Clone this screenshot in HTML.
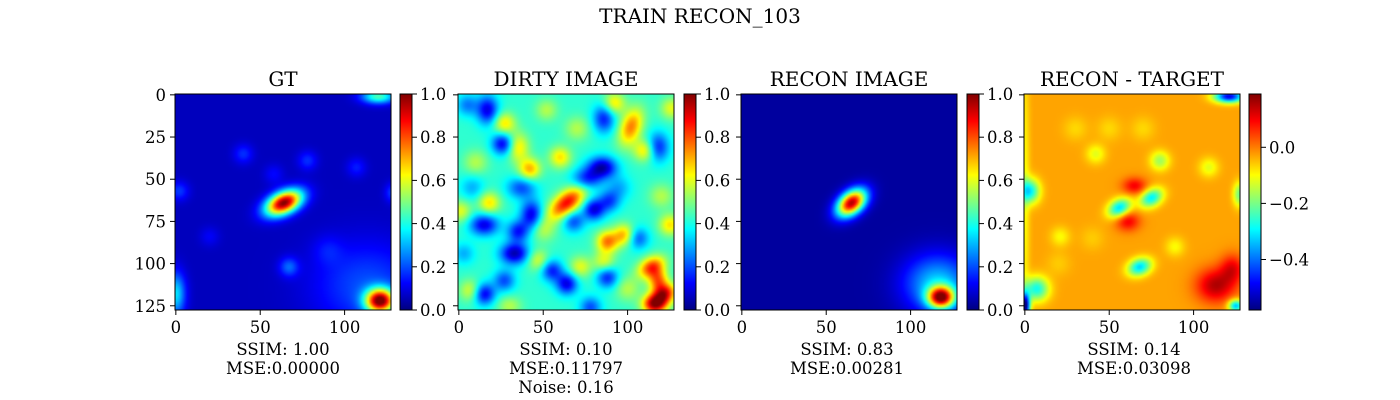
<!DOCTYPE html>
<html><head><meta charset="utf-8"><style>
body{margin:0;background:#fff;}
#wrap{position:relative;width:1400px;height:400px;overflow:hidden;font-family:"DejaVu Serif","Liberation Serif",serif;}
canvas{position:absolute;width:216px;height:216px;}
svg{position:absolute;left:0;top:0;}
</style></head><body>
<div id="wrap">
<canvas id="c0" width="216" height="216" style="left:175px;top:94px"></canvas>
<canvas id="c1" width="216" height="216" style="left:458px;top:94px"></canvas>
<canvas id="c2" width="216" height="216" style="left:741px;top:94px"></canvas>
<canvas id="c3" width="216" height="216" style="left:1024px;top:94px"></canvas>
<svg id="ov" width="1400" height="400">
<defs><linearGradient id="jet" x1="0" y1="1" x2="0" y2="0">
<stop offset="0" stop-color="#000080"/><stop offset="0.125" stop-color="#0000ff"/><stop offset="0.375" stop-color="#00ffff"/><stop offset="0.625" stop-color="#ffff00"/><stop offset="0.875" stop-color="#ff0000"/><stop offset="1" stop-color="#800000"/></linearGradient></defs>
<text x="700" y="23" font-size="20" text-anchor="middle">TRAIN RECON_103</text>
</svg>
</div>
<script>
// blobs: [x, y, sigmaX, sigmaY, angleDeg, peakValue]
const gtBg = 0.06;
const gtBlobs = [[64,64,8,4.5,-25,1.0],[121,122,6,5,0,0.95],[113,113,22,18,0,0.2],[120,1,7,3,0,0.45],[0,118,4,9,0,0.35],
 [40,35,4,4,0,0.17],[78,39,4,4,0,0.17],[107,43,4,4,0,0.15],[67,102,4,4,0,0.22],[2,57,4,4,0,0.18],[128,58,3,4,0,0.18],[20,84,4,4,0,0.12],[58,47,4,4,0,0.13],[90,92,6,6,0,0.12]];
const dirtyBg = 0.42;
const dirtyBlobs = [[64,64,9,4.5,-40,0.88],[102,19,4.5,8,20,0.75],[110,33,4.5,4.5,0,0.65],[60,37,4.5,4.5,0,0.65],[42,44,4.5,4.5,0,0.7],[35,31,4.5,6,0,0.65],[27,17,4.5,4.5,0,0.65],[18,64,4.5,4.5,0,0.65],[88,87,4.5,4.5,0,0.75],[98,83,4.5,4.5,0,0.7],
 [114,102,6,4,-30,0.8],[118,110,4,5,0,0.75],[122,118,5,4,-30,0.85],[116,124,5,4,0,0.95],[125,77,4.5,4.5,0,0.65],[92,5,4.5,4.5,0,0.65],
 [17,9,4.5,6,0,0.1],[26,29,4.5,4.5,0,0.1],[85,43,6,4.5,0,0.05],[76,50,6,4.5,0,0.15],[86,14,4.5,6,0,0.15],[118,31,4.5,6,0,0.15],[15,77,6,4.5,0,0.1],[43,71,4.5,6,0,0.1],[33,94,6,4.5,0,0.05],[35,81,4.5,4.5,0,0.15],[80,68,4.5,4.5,0,0.1],[89,63,4.5,4.5,0,0.2],[15,118,4.5,4.5,0,0.1],[64,112,4.5,4.5,0,0.1],[55,104,4.5,4.5,0,0.15],[88,108,4.5,4.5,0,0.15],[106,85,4.5,4.5,0,0.2],[37,55,6,4.5,0,0.2],[68,75,4.5,4.5,0,0.2],[5,6,4.5,4.5,0,0.25],[27,110,4.5,4.5,0,0.2],[78,126,4.5,4.5,0,0.2],[3,94,4.5,4.5,0,0.3],
 [7,116,4.5,4.5,0,0.6],[47,98,4.5,4.5,0,0.6],[72,102,4.5,4.5,0,0.6],[86,99,4.5,4.5,0,0.6],[1,69,4.5,4.5,0,0.6],[126,8,4.5,4.5,0,0.6],[52,9,4.5,4.5,0,0.55],
 [10,40,5,5,0,0.55],[70,20,5,5,0,0.55],[120,60,5,5,0,0.55],[50,80,5,5,0,0.55],[100,115,5,5,0,0.55],[30,125,5,4,0,0.55],[95,55,5,5,0,0.3],[8,55,5,5,0,0.3]];
const reconBg = 0.03;
const reconBlobs = [[65,64,7,4.5,-40,0.95],[118,120,5.5,4.5,0,0.85],[116,112,14,12,0,0.33]];
const diffBg = -0.03;
const diffBlobs = [[56,67,5,3.5,-30,-0.32],[75,61,5,3.5,-30,-0.3],[68,102,5,3.5,-20,-0.32],[3,57,4,5,0,-0.3],[80,39,4,4,0,-0.17],[42,35,4,4,0,-0.12],[109,43,4,4,0,-0.12],[127,59,2.5,5,0,-0.2],[21,84,4,4,0,-0.1],[89,90,4,4,0,-0.1],
 [65,54,5,3.5,0,0.1],[61,75,5,4,0,0.1],[113,113,8,7,0,0.15],[123,103,5,6,0,0.1],[7,115,5,5,0,-0.28],[0,125,2,5,0,-0.58],[121,1,6,2.5,0,-0.5],[125,125,3,2.5,0,-0.35],[0,60,2,60,0,-0.1],
 [30,20,5,5,0,-0.07],[50,20,5,5,0,-0.07],[70,20,5,5,0,-0.07],[20,100,5,5,0,-0.06],[40,85,5,5,0,-0.06]];
const cbTicks1 = ["0.0","0.2","0.4","0.6","0.8","1.0"];
const cbVals1 = [0,0.2,0.4,0.6,0.8,1.0];
const cbTicks4 = ["\u22120.4","\u22120.2","0.0"];
const cbVals4 = [-0.4,-0.2,0.0];
const axTicks = [0,25,50,75,100,125];
const axXTicks = [0,50,100];
const panelTitles = ["GT","DIRTY IMAGE","RECON IMAGE","RECON - TARGET"];
const metrics = [["SSIM: 1.00","MSE:0.00000"],["SSIM: 0.10","MSE:0.11797","Noise: 0.16"],["SSIM: 0.83","MSE:0.00281"],["SSIM: 0.14","MSE:0.03098"]];
const ranges = [[0,1],[0,1],[0,1],[-0.58,0.19]];

const lefts=[175,458,741,1024], TOP=94, SZ=216, N=128, PX=SZ/N;
const cbL=[400,684,967,1249];
function jet(v){const c=x=>Math.max(0,Math.min(1,x));return [c(1.5-Math.abs(4*v-3)),c(1.5-Math.abs(4*v-2)),c(1.5-Math.abs(4*v-1))].map(x=>Math.round(x*255));}
function render(id,bg,blobs,rng){
 const off=document.createElement('canvas');off.width=N;off.height=N;const ox=off.getContext('2d');
 const im=ox.createImageData(N,N);
 for(let j=0;j<N;j++)for(let i=0;i<N;i++){
  let v=bg;
  for(const b of blobs){const a=b[4]*Math.PI/180,dx=i-b[0],dy=j-b[1];
   const u=dx*Math.cos(a)+dy*Math.sin(a),w=-dx*Math.sin(a)+dy*Math.cos(a);
   v+=(b[5]-bg)*Math.exp(-(u*u/(2*b[2]*b[2])+w*w/(2*b[3]*b[3])));}
  const n=(v-rng[0])/(rng[1]-rng[0]);const c=jet(Math.max(0,Math.min(1,n)));const k=(j*N+i)*4;
  im.data[k]=c[0];im.data[k+1]=c[1];im.data[k+2]=c[2];im.data[k+3]=255;}
 ox.putImageData(im,0,0);
 const ctx=document.getElementById(id).getContext('2d');ctx.imageSmoothingEnabled=true;ctx.drawImage(off,0,0,SZ,SZ);
}
render('c0',gtBg,gtBlobs,ranges[0]);
render('c1',dirtyBg,dirtyBlobs,ranges[1]);
render('c2',reconBg,reconBlobs,ranges[2]);
render('c3',diffBg,diffBlobs,ranges[3]);

const svg=document.getElementById('ov');const NS='http://www.w3.org/2000/svg';
function mk(tag,attrs,name,txt){const e=document.createElementNS(NS,tag);for(const k in attrs)e.setAttribute(k,attrs[k]);
 
 
 if(txt!==undefined)e.textContent=txt;svg.appendChild(e);return e;}
const xs=(p,v)=>lefts[p]+(v+0.5)*PX, ys=v=>TOP+(v+0.5)*PX;
for(let p=0;p<4;p++){
 const L=lefts[p];
 mk('rect',{x:L,y:TOP,width:SZ,height:SZ,fill:'none',stroke:'#000','stroke-width':1},'image-frame');
 mk('text',{x:L+SZ/2,y:86,'font-size':20,'text-anchor':'middle'},'panel-title',panelTitles[p]);
 for(const t of axXTicks){const x=xs(p,t);mk('line',{x1:x,x2:x,y1:TOP+SZ,y2:TOP+SZ+5,stroke:'#000'},'x-tick');
  mk('text',{x:x,y:TOP+SZ+23,'font-size':16.5,'text-anchor':'middle'},'x-tick-label',String(t));}
 for(const t of axTicks){const y=ys(t);mk('line',{x1:L-5,x2:L,y1:y,y2:y,stroke:'#000'},'y-tick');
  if(p===0)mk('text',{x:L-9,y:y+6,'font-size':16.5,'text-anchor':'end'},'y-tick-label',String(t));}
 const m=metrics[p];for(let i=0;i<m.length;i++)mk('text',{x:L+SZ/2+(p===3?2:(p===2?-2:0)),y:355+i*19,'font-size':16.5,'text-anchor':'middle'},'metric-text',m[i]);
 const cx=cbL[p];mk('rect',{x:cx,y:TOP,width:12,height:SZ,fill:'url(#jet)',stroke:'#000','stroke-width':1},'colorbar');
 const r=ranges[p];const tv=p===3?cbVals4:cbVals1, tl=p===3?cbTicks4:cbTicks1;
 for(let i=0;i<tv.length;i++){const y=TOP+SZ-(tv[i]-r[0])/(r[1]-r[0])*SZ;
  mk('line',{x1:cx+12,x2:cx+17,y1:y,y2:y,stroke:'#000'},'colorbar-tick');
  mk('text',{x:cx+20,y:y+6,'font-size':16.5},'colorbar-tick-label',tl[i]);}
}
</script>
</body></html>
